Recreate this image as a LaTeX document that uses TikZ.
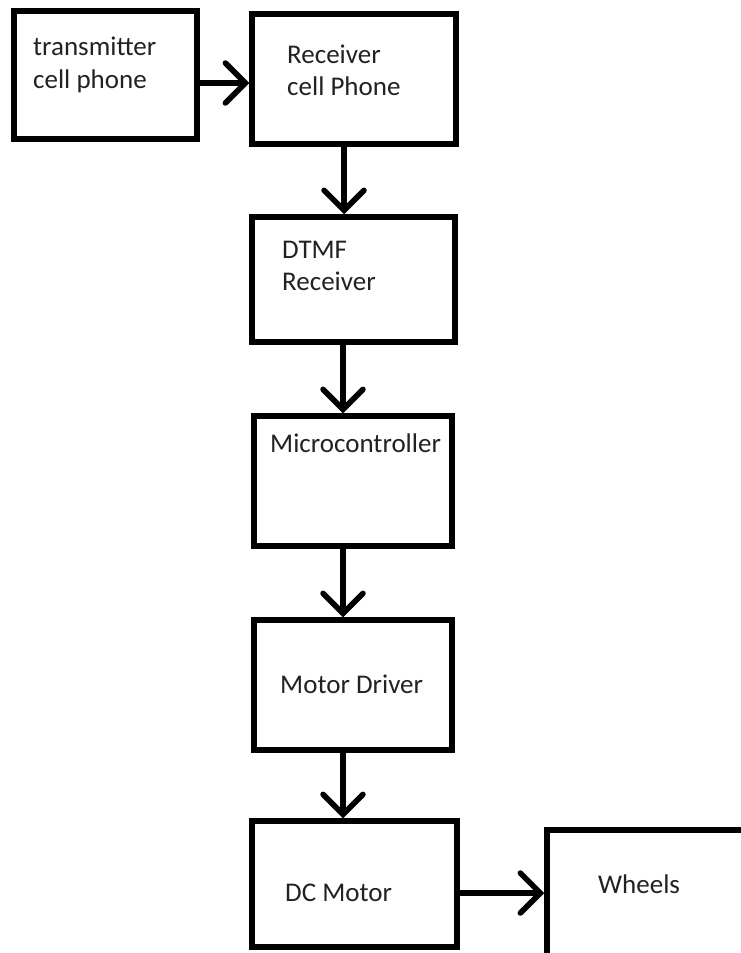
\documentclass[tikz,border=0pt]{standalone}
\usepackage{fontspec}
\setmainfont{Carlito}
\usetikzlibrary{arrows.meta}
\definecolor{txt}{HTML}{222222}
\tikzset{
  blk/.style={draw=black, line width=5.5pt, fill=white, rectangle, inner sep=0pt},
  lbl/.style={anchor=base west, inner sep=0pt, text=txt, font=\fontsize{27}{33}\selectfont},
  arr/.style={line width=5.5pt, -{Straight Barb[length=20pt,width=40pt,line cap=round]}}
}
\begin{document}
\begin{tikzpicture}[x=1pt,y=-1pt]
\clip (0,0) rectangle (741,953);
\fill[white] (0,0) rectangle (741,953);
% boxes
\node[blk, minimum width=183pt, minimum height=128pt] (b1) at (105.5,75) {};
\node[blk, minimum width=204pt, minimum height=130pt] (b2) at (354,79) {};
\node[blk, minimum width=203pt, minimum height=125pt] (b3) at (353.5,279.5) {};
\node[blk, minimum width=198pt, minimum height=130pt] (b4) at (353,481) {};
\node[blk, minimum width=198pt, minimum height=130pt] (b5) at (353,685) {};
\node[blk, minimum width=205pt, minimum height=126pt] (b6) at (354.5,884) {};
\node[blk, minimum width=253pt, minimum height=170pt] (b7) at (673.5,915) {};
% labels
\node[lbl] (t1a) at (33,55) {transmitter};
\node[lbl] (t1b) at (33,88) {cell phone};
\node[lbl] (t2a) at (287,63) {Receiver};
\node[lbl] (t2b) at (287,95) {cell Phone};
\node[lbl] (t3a) at (282,258) {DTMF};
\node[lbl] (t3b) at (282,290) {Receiver};
\node[lbl] (t4) at (270,452) {Microcontroller};
\node[lbl] (t5) at (280,693) {Motor Driver};
\node[lbl] (t6) at (285,901) {DC Motor};
\node[lbl] (t7) at (598,893) {Wheels};
% connector guides
\coordinate (h1) at (0,83);
\coordinate (h2) at (0,893);
\coordinate (v1) at (344,0);
\coordinate (v2) at (343,0);
% connectors
\draw[arr] (b1.east |- h1) -- (b2.west |- h1);
\draw[arr] (b2.south -| v1) -- (b3.north -| v1);
\draw[arr] (b3.south -| v2) -- (b4.north -| v2);
\draw[arr] (b4.south -| v2) -- (b5.north -| v2);
\draw[arr] (b5.south -| v2) -- (b6.north -| v2);
\draw[arr] (b6.east |- h2) -- (b7.west |- h2);
\end{tikzpicture}
\end{document}
